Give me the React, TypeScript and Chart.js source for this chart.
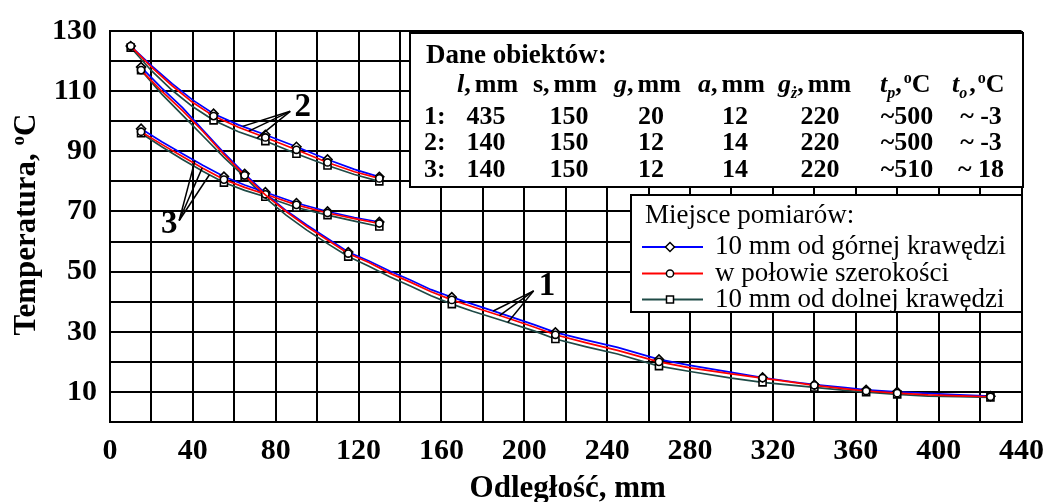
import React, { useEffect, useRef } from 'react';
import { Chart, registerables } from 'chart.js';

Chart.register(...registerables);

// ---------------- data ----------------
// Group 1 (l = 435 mm)
const g1X = [15, 25, 35, 45, 55, 65, 75, 85, 95, 105, 115, 125, 135, 145, 155, 165, 175, 190, 205, 215, 230, 245, 265, 280, 300, 315, 330, 340, 355, 365, 380, 395, 410, 425];
const g1Top = [118, 111, 104.5, 97, 89.5, 82.5, 76, 70.3, 65.5, 61, 56.5, 53.5, 50.2, 47.2, 44, 41.5, 39.2, 35.8, 32.3, 29.8, 27.2, 24.8, 20.8, 18.8, 16.5, 14.8, 13.3, 12.4, 11.4, 10.7, 10, 9.5, 9, 8.6];
const g1Mid = [117, 110, 103.5, 96.5, 89, 82, 75.5, 70, 65, 60.5, 56, 53, 49.5, 46.5, 43.3, 40.6, 38.3, 35, 31.5, 29, 26.3, 23.8, 20, 18, 16, 14.6, 13.2, 12.2, 11, 10.3, 9.6, 9, 8.7, 8.4];
const g1Bot = [117, 109, 102, 95, 88, 81.5, 74.5, 68.8, 63.8, 59.3, 55, 51.8, 48.3, 45.2, 42, 39.2, 36.8, 33.6, 30.2, 27.6, 25, 22.6, 18.6, 16.8, 14.6, 13.2, 12.2, 11.5, 10.5, 9.9, 9.2, 8.6, 8.4, 8.2];
const g1Marks = [15, 65, 115, 165, 215, 265, 315, 340, 365, 380, 425];

// Group 2 (l = 140 mm, to ~ -3)
const g2X = [10, 20, 30, 40, 50, 62, 75, 90, 105, 118, 130];
const g2Top = [125, 118.5, 112.5, 107, 102.5, 98.8, 95.5, 91.5, 87.3, 84, 81.5];
const g2Mid = [125, 118, 111.8, 106.2, 101.7, 98, 94.6, 90.5, 86.3, 83.2, 81];
const g2Bot = [124.5, 116.8, 110.3, 104.8, 100.3, 96.5, 93.4, 89.2, 85.3, 82.3, 80];
const g2Marks = [10, 50, 75, 90, 105, 130];

// Group 3 (l = 140 mm, to ~ 18)
const g3X = [15, 25, 35, 45, 55, 65, 75, 90, 105, 118, 130];
const g3Top = [97.5, 93.2, 89.2, 85.3, 81.6, 78.8, 76.4, 72.8, 70, 68, 66.5];
const g3Mid = [96.5, 92.3, 88.3, 84.3, 80.6, 78, 75.7, 72.2, 69.5, 67.6, 66];
const g3Bot = [96, 91.5, 87.3, 83.3, 79.6, 77, 74.9, 71.3, 68.8, 66.8, 65];
const g3Marks = [15, 55, 75, 90, 105, 130];

// axes
const X_MIN = 0, X_MAX = 440, X_STEP = 20, X_LABEL_EVERY = 40;
const Y_MIN = 0, Y_MAX = 130, Y_STEP = 10;
const xTitle = 'Odległość, mm';
const yTitle = 'Temperatura, ';

// legend
const legendTitle = 'Miejsce pomiarów:';
const legendLabels = ['10 mm od górnej krawędzi', 'w połowie szerokości', '10 mm od dolnej krawędzi'];

// table
const tableTitle = 'Dane obiektów:';
const tableRows = [
  ['1:', '435', '150', '20', '12', '220', '~500', '~ -3'],
  ['2:', '140', '150', '12', '14', '220', '~500', '~ -3'],
  ['3:', '140', '150', '12', '14', '220', '~510', '~ 18'],
];

// call-outs (data units)
const callouts = [
  { label: '1', at: [211, 44.9], apex: [204.5, 43.6], ends: [[185, 36.9], [188, 35.4], [192, 33.1]] },
  { label: '2', at: [93, 104.6], apex: [87, 103.3], ends: [[64, 98.3], [67, 96.7], [71, 94.4]] },
  { label: '3', at: [28.6, 65.6], apex: [33.4, 67.0], ends: [[41, 86.9], [44.5, 84.5], [48, 82.2]] },
];

// ---------------- styles ----------------
const W = 1055, H = 502;
const SERIF = '"Liberation Serif", "Times New Roman", Times, serif';
const BLUE = '#0000ff', RED = '#ff0000', TEAL = '#1f4a46';

const zip = (xs: number[], ys: number[]) => xs.map((x, i) => ({ x, y: ys[i] }));

function ds(xs: number[], ys: number[], marks: number[], color: string, style: string, r: number) {
  return {
    data: zip(xs, ys),
    borderColor: color,
    borderWidth: 1.7,
    fill: false,
    tension: 0,
    pointStyle: style,
    pointRadius: (c: any) => (c.raw && marks.includes(c.raw.x) ? r : 0),
    pointHoverRadius: 0,
    pointBackgroundColor: '#fff',
    pointBorderColor: '#000',
    pointBorderWidth: 1.6,
  };
}

type Seg = { t: string; i?: boolean; sub?: boolean; sup?: boolean; dx?: number };

function fontFor(s: Seg, size: number, bold: boolean) {
  return `${s.i ? 'italic ' : ''}${bold ? 'bold ' : ''}${s.sub || s.sup ? Math.round(size * 0.62) : size}px ${SERIF}`;
}

function richWidth(ctx: CanvasRenderingContext2D, segs: Seg[], size: number, bold: boolean) {
  let total = 0;
  for (const s of segs) {
    ctx.font = fontFor(s, size, bold);
    total += ctx.measureText(s.t).width + (s.dx || 0);
  }
  return total;
}

function drawRich(ctx: CanvasRenderingContext2D, segs: Seg[], x: number, y: number, size: number, bold: boolean, align: 'left' | 'center' | 'right' = 'left') {
  const total = richWidth(ctx, segs, size, bold);
  let cx = align === 'center' ? x - total / 2 : align === 'right' ? x - total : x;
  ctx.textAlign = 'left';
  ctx.textBaseline = 'alphabetic';
  for (const s of segs) {
    ctx.font = fontFor(s, size, bold);
    cx += s.dx || 0;
    const dy = s.sub ? size * 0.22 : s.sup ? -size * 0.36 : 0;
    ctx.fillText(s.t, cx, y + dy);
    cx += ctx.measureText(s.t).width;
  }
}

const headerSegs: Seg[][] = [
  [{ t: 'l', i: true }, { t: ',' }, { t: 'mm', dx: 4 }],
  [{ t: 's,' }, { t: 'mm', dx: 4 }],
  [{ t: 'g', i: true }, { t: ',' }, { t: 'mm', dx: 4 }],
  [{ t: 'a', i: true }, { t: ',' }, { t: 'mm', dx: 4 }],
  [{ t: 'g', i: true }, { t: 'ż', i: true, sub: true }, { t: ',' }, { t: 'mm', dx: 4 }],
  [{ t: 't', i: true }, { t: 'p', i: true, sub: true }, { t: ',' }, { t: 'o', sup: true, dx: 2 }, { t: 'C' }],
  [{ t: 't', i: true }, { t: 'o', i: true, sub: true }, { t: ',', dx: 2 }, { t: 'o', sup: true, dx: 2 }, { t: 'C' }],
];
const headerLeft = [457, 533, 614, 698, 778, 880, 952];
const colCenters = [486, 569, 651, 735, 820, 907, 981];
const rowBaselines = [123.5, 150, 176.5];

function drawMarker(ctx: CanvasRenderingContext2D, kind: string, cx: number, cy: number) {
  ctx.save();
  ctx.fillStyle = '#fff';
  ctx.strokeStyle = '#000';
  ctx.lineWidth = 1.5;
  ctx.beginPath();
  if (kind === 'rectRot') {
    const r = 4.5;
    ctx.moveTo(cx, cy - r); ctx.lineTo(cx + r, cy); ctx.lineTo(cx, cy + r); ctx.lineTo(cx - r, cy); ctx.closePath();
  } else if (kind === 'circle') {
    ctx.arc(cx, cy, 3.6, 0, Math.PI * 2);
  } else {
    ctx.rect(cx - 3.5, cy - 3.5, 7, 7);
  }
  ctx.fill();
  ctx.stroke();
  ctx.restore();
}

const overlay = {
  id: 'overlay',
  afterDraw(chart: any) {
    const ctx: CanvasRenderingContext2D = chart.ctx;
    const xs = chart.scales.x, ys = chart.scales.y;
    const px = (v: number) => xs.getPixelForValue(v);
    const py = (v: number) => ys.getPixelForValue(v);
    ctx.save();

    // call-outs
    ctx.strokeStyle = '#000';
    ctx.lineWidth = 1.5;
    for (const c of callouts) {
      for (const e of c.ends) {
        ctx.beginPath();
        ctx.moveTo(px(c.apex[0]), py(c.apex[1]));
        ctx.lineTo(px(e[0]), py(e[1]));
        ctx.stroke();
      }
      ctx.fillStyle = '#000';
      ctx.font = `bold 33px ${SERIF}`;
      ctx.textAlign = 'center';
      ctx.textBaseline = 'middle';
      ctx.fillText(c.label, px(c.at[0]), py(c.at[1]));
    }

    // data table
    ctx.fillStyle = '#fff';
    ctx.fillRect(410, 33, 613, 154);
    ctx.strokeStyle = '#000';
    ctx.lineWidth = 2;
    ctx.strokeRect(410, 33, 613, 154);
    ctx.fillStyle = '#000';
    drawRich(ctx, [{ t: tableTitle }], 426, 63, 27, true);
    headerSegs.forEach((segs, i) => drawRich(ctx, segs, headerLeft[i], 92, 26, true));
    tableRows.forEach((row, r) => {
      drawRich(ctx, [{ t: row[0] }], 424, rowBaselines[r], 26, true);
      row.slice(1).forEach((v, c) => drawRich(ctx, [{ t: v }], colCenters[c], rowBaselines[r], 26, true, 'center'));
    });

    // legend
    ctx.fillStyle = '#fff';
    ctx.fillRect(631, 195, 391, 117);
    ctx.strokeStyle = '#000';
    ctx.lineWidth = 2;
    ctx.strokeRect(631, 195, 391, 117);
    ctx.fillStyle = '#000';
    drawRich(ctx, [{ t: legendTitle }], 645, 223, 27, false);
    const lColors = [BLUE, RED, TEAL];
    const lKinds = ['rectRot', 'circle', 'rect'];
    const lBase = [254, 280.5, 306.5];
    legendLabels.forEach((lab, i) => {
      const ly = lBase[i] - 7;
      ctx.strokeStyle = lColors[i];
      ctx.lineWidth = 2;
      ctx.beginPath();
      ctx.moveTo(642, ly);
      ctx.lineTo(703, ly);
      ctx.stroke();
      drawMarker(ctx, lKinds[i], 670, ly);
      ctx.fillStyle = '#000';
      drawRich(ctx, [{ t: lab }], 715, lBase[i], 27, false);
    });

    // axis titles
    ctx.fillStyle = '#000';
    drawRich(ctx, [{ t: xTitle }], (chart.chartArea.left + chart.chartArea.right) / 2 + 2, 497, 31, true, 'center');
    ctx.save();
    ctx.translate(35, (chart.chartArea.top + chart.chartArea.bottom) / 2 - 2);
    ctx.rotate(-Math.PI / 2);
    drawRich(ctx, [{ t: yTitle }, { t: 'o', sup: true }, { t: 'C' }], 0, 0, 31, true, 'center');
    ctx.restore();

    ctx.restore();
  },
};

export default function App() {
  const ref = useRef<HTMLCanvasElement>(null);
  useEffect(() => {
    const canvas = ref.current;
    if (!canvas) return;
    const datasets = [
      ds(g1X, g1Mid, g1Marks, RED, 'circle', 3.6),
      ds(g2X, g2Mid, g2Marks, RED, 'circle', 3.6),
      ds(g3X, g3Mid, g3Marks, RED, 'circle', 3.6),
      ds(g1X, g1Top, g1Marks, BLUE, 'rectRot', 4.5),
      ds(g2X, g2Top, g2Marks, BLUE, 'rectRot', 4.5),
      ds(g3X, g3Top, g3Marks, BLUE, 'rectRot', 4.5),
      ds(g1X, g1Bot, g1Marks, TEAL, 'rect', 5),
      ds(g2X, g2Bot, g2Marks, TEAL, 'rect', 5),
      ds(g3X, g3Bot, g3Marks, TEAL, 'rect', 5),
    ];
    const tickFont = { family: SERIF, size: 30, weight: 'bold' as const };
    const chart = new Chart(canvas, {
      type: 'line',
      data: { datasets: datasets as any },
      options: {
        responsive: false,
        animation: false,
        devicePixelRatio: 1,
        layout: { padding: { top: 26, right: 24, left: 0, bottom: 0 } },
        plugins: { legend: { display: false }, tooltip: { enabled: false }, title: { display: false } },
        scales: {
          x: {
            type: 'linear',
            min: X_MIN,
            max: X_MAX,
            afterFit: (s: any) => { s.height = 80; },
            ticks: {
              stepSize: X_STEP,
              autoSkip: false,
              maxRotation: 0,
              padding: 11,
              color: '#000',
              font: tickFont,
              callback: (v: any) => (Number(v) % X_LABEL_EVERY === 0 ? String(v) : ''),
            },
            grid: { color: '#000', lineWidth: 2, drawTicks: false },
            border: { color: '#000', width: 2 },
          },
          y: {
            type: 'linear',
            min: Y_MIN,
            max: Y_MAX,
            afterFit: (s: any) => { s.width = 110; },
            ticks: {
              stepSize: Y_STEP,
              autoSkip: false,
              padding: 13,
              color: '#000',
              font: tickFont,
              callback: (v: any) => (Number(v) % 20 === 10 ? String(v) : ''),
            },
            grid: { color: '#000', lineWidth: 2, drawTicks: false },
            border: { color: '#000', width: 2 },
          },
        },
      } as any,
      plugins: [overlay],
    });
    return () => chart.destroy();
  }, []);
  return (
    <div style={{ position: 'fixed', left: 0, top: 0, width: W, height: H, background: '#fff' }}>
      <canvas ref={ref} width={W} height={H} style={{ width: W, height: H, display: 'block' }} />
    </div>
  );
}
